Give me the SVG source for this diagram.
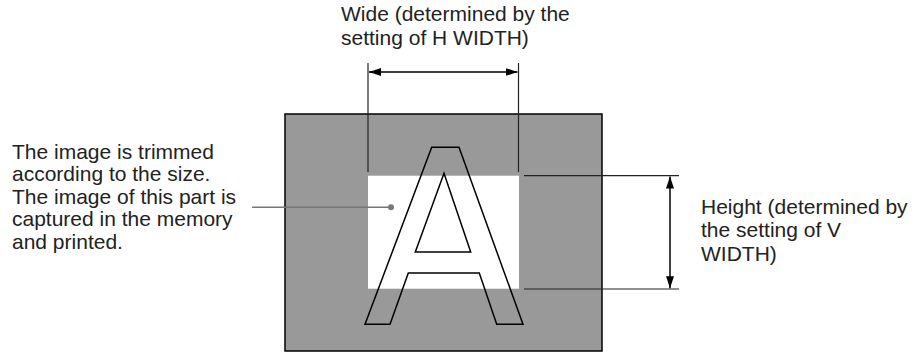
<svg xmlns="http://www.w3.org/2000/svg" width="921" height="352" viewBox="0 0 921 352">
<style>
text{font-family:"Liberation Sans",Arial,sans-serif;font-size:21px;fill:#222}
.ext{stroke:#222;stroke-width:1.2;fill:none}
.dim{stroke:#000;stroke-width:1.5;fill:none}
.glyph{stroke:#000;stroke-width:1.5;fill:none;stroke-linejoin:miter}
</style>
<defs>
<marker id="ah" viewBox="0 0 12 8" refX="12" refY="4" markerWidth="12" markerHeight="8" markerUnits="userSpaceOnUse" orient="auto-start-reverse">
<path d="M0,0 L12,4 L0,8 Z" fill="#000"/>
</marker>
</defs>
<g id="frame">
<rect x="285" y="114" width="317" height="237" fill="#999" stroke="#000" stroke-width="1.5"/>
<rect x="368" y="175.7" width="151" height="113" fill="#fff"/>
</g>
<g id="letterA">
<path class="glyph" d="M431.7,147.3 L459,147.3 L523,324.3 L496.7,324.3 L479.3,273 L408.3,273 L390,324.3 L365,324.3 Z"/>
<path class="glyph" d="M444,173.3 L470.7,252 L415.3,252 Z"/>
</g>
<g id="connectors">
<line class="ext" x1="368" y1="63" x2="368" y2="172"/>
<line class="ext" x1="518.5" y1="63" x2="518.5" y2="172"/>
<line class="dim" x1="369" y1="72" x2="517.5" y2="72" marker-start="url(#ah)" marker-end="url(#ah)"/>
<line class="ext" x1="524" y1="175.7" x2="679" y2="175.7"/>
<line class="ext" x1="524" y1="289" x2="679" y2="289"/>
<line class="dim" x1="670" y1="176.5" x2="670" y2="288.2" marker-start="url(#ah)" marker-end="url(#ah)"/>
<line x1="252" y1="207.3" x2="391" y2="207.3" stroke="#777" stroke-width="1.5"/>
<circle cx="391" cy="207.3" r="3" fill="#777"/>
</g>
<g id="label-wide">
<text x="341" y="21">Wide (determined by the</text>
<text x="341" y="45">setting of H WIDTH)</text>
</g>
<g id="label-trim">
<text x="12" y="158.5">The image is trimmed</text>
<text x="12" y="181">according to the size.</text>
<text x="12" y="203.5">The image of this part is</text>
<text x="12" y="226">captured in the memory</text>
<text x="12" y="248.5">and printed.</text>
</g>
<g id="label-height">
<text x="701" y="214">Height (determined by</text>
<text x="701" y="237.3">the setting of V</text>
<text x="701" y="260.6">WIDTH)</text>
</g>
</svg>
